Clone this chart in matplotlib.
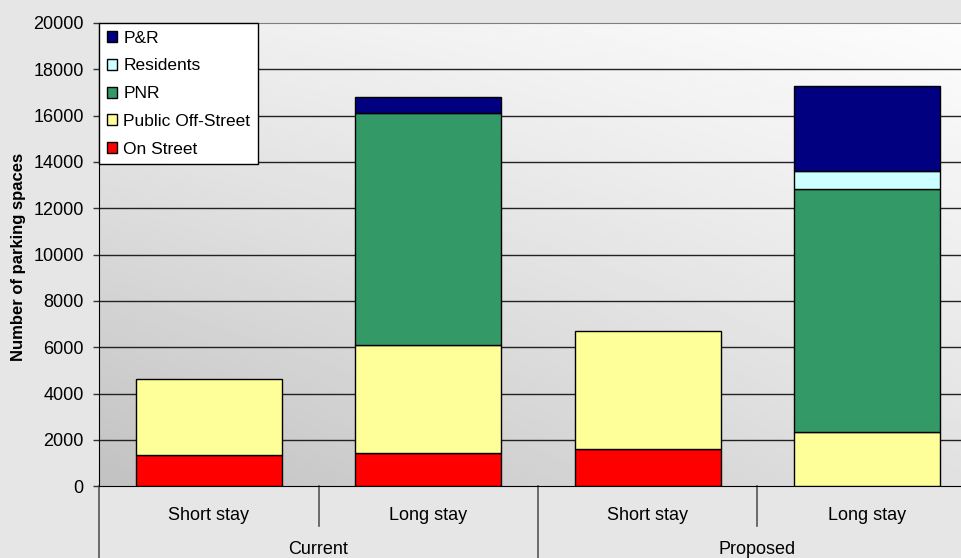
import matplotlib
matplotlib.use('Agg')
from matplotlib import pyplot as plt
from matplotlib.patches import Patch
import numpy as np

# stacked parking spaces, current vs proposed

groups = ["Current", "Proposed"]
stays = ["Short stay", "Long stay", "Short stay", "Long stay"]

on_street = [1350, 1430, 1600, 0]
public_off = [3300, 4670, 5100, 2330]
pnr = [0, 10010, 0, 10500]
residents = [0, 0, 0, 800]
park_ride = [0, 690, 0, 3630]

series = [("On Street", on_street, '#ff0000'),
          ("Public Off-Street", public_off, '#ffff99'),
          ("PNR", pnr, '#339966'),
          ("Residents", residents, '#ccffff'),
          ("P&R", park_ride, '#000080')]

plt.rcParams['font.family'] = ['Liberation Sans', 'DejaVu Sans']

fig = plt.figure(figsize=(9.62, 5.58), dpi=100, facecolor='#e6e6e6')
W, H = 962.0, 558.0
left, right, top, bottom = 99, 962, 23, 486.3
ph = bottom - top
ax = fig.add_axes([left / W, 1 - bottom / H, (right - left) / W, ph / H])

# gradient background of plot area
xx, yy = np.meshgrid(np.linspace(0, 1, 200), np.linspace(0, 1, 200))
tl, tr, bl, br = 0.93, 0.99, 0.76, 0.88
grad = (bl * (1 - xx) * (1 - yy) + br * xx * (1 - yy) + tl * (1 - xx) * yy + tr * xx * yy)
ax.imshow(grad, extent=[0, 1, 0, 1], transform=ax.transAxes, origin='lower',
          cmap='gray', vmin=0, vmax=1, aspect='auto', zorder=0, interpolation='bilinear')

x = np.arange(len(stays))
base = np.zeros(len(stays))
handles = []
for name, vals, col in series:
    vals = np.array(vals, dtype=float)
    mask = vals > 0
    ax.bar(x[mask], vals[mask], bottom=base[mask], width=0.665, color=col,
           edgecolor='black', linewidth=1, zorder=3)
    base = base + vals
    handles.append(Patch(facecolor=col, edgecolor='black', linewidth=1, label=name))

for yv in range(2000, 20000, 2000):
    ax.axhline(yv, color='#222222', lw=1, zorder=1)

ax.set_ylim(0, 20000)
ax.set_xlim(-0.5, -0.5 + (right - left) / 219.5)
ax.set_yticks(range(0, 20001, 2000))
ax.tick_params(axis='y', labelsize=13, length=4, width=1, pad=7, color='#333333')
ax.set_xticks([])
ax.spines['top'].set_color('#808080')
ax.spines['right'].set_visible(False)
ax.spines['left'].set_color('black')
ax.spines['bottom'].set_color('black')
ax.set_ylabel('Number of parking spaces', fontsize=12, fontweight='bold')
ax.yaxis.set_label_coords(-(left - 26) / (right - left), (bottom - 257) / ph)

# category table under the axis
trans = matplotlib.transforms.blended_transform_factory(ax.transData, ax.transAxes)
for i, s in enumerate(stays):
    ax.text(x[i], -(515 - bottom) / ph, s, transform=trans, ha='center', va='center', fontsize=13)
for j, g in enumerate(groups):
    ax.text(2 * j + 0.5, -(550 - bottom) / ph, g, transform=trans, ha='center', va='center', fontsize=13)
for xv in [-0.5, 1.5]:
    ax.plot([xv, xv], [0, -0.2], transform=trans, color='#555555', lw=1.2, clip_on=False)
for xv in [0.5, 2.5]:
    ax.plot([xv, xv], [0, -(526 - bottom) / ph], transform=trans, color='#555555', lw=1.2, clip_on=False)

leg = ax.legend(handles=handles[::-1], loc='upper left', bbox_to_anchor=(0, 1), borderaxespad=0,
                fontsize=12.5, frameon=True, fancybox=False, edgecolor='black', framealpha=1,
                handlelength=0.6, handleheight=0.6, handletextpad=0.35, labelspacing=0.73,
                borderpad=0.45)
leg.get_frame().set_linewidth(1)
leg.set_zorder(5)

plt.savefig('out.png', dpi=100, facecolor=fig.get_facecolor())
